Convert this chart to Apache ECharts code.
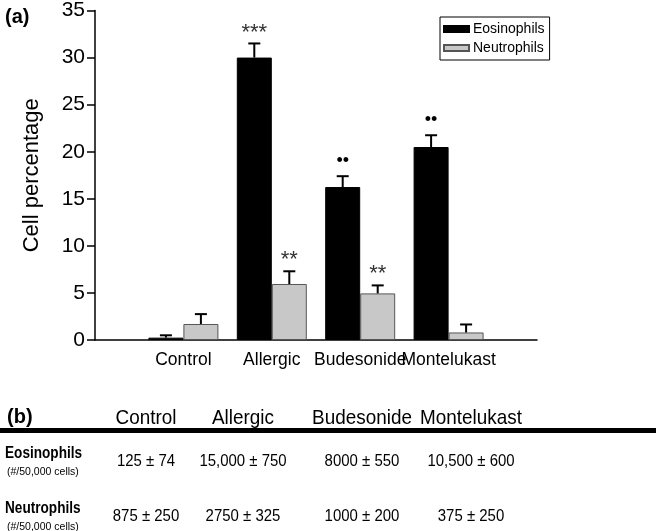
<!DOCTYPE html>
<html>
<head>
<meta charset="utf-8">
<script src="https://cdn.jsdelivr.net/npm/echarts@6/dist/echarts.min.js"></script>
<style>
html,body{margin:0;padding:0;background:#fff;}
#chart{width:659px;height:531px;}
</style>
</head>
<body>
<div id="chart"></div>
<script>
// ---- data ----
const categories = ['Control', 'Allergic', 'Budesonide', 'Montelukast'];
const eosinophils = [0.25, 30.0, 16.25, 20.5];
const eosErr = [0.25, 1.5, 1.15, 1.25];
const neutrophils = [1.7, 5.95, 4.95, 0.8];
const neutErr = [1.05, 1.35, 0.85, 0.85];
const eosSig = ['', '***', '••', '••'];
const neutSig = ['', '**', '**', ''];
const yMin = 0, yMax = 35, yStep = 5;

const tableHeaders = ['Control', 'Allergic', 'Budesonide', 'Montelukast'];
const rowLabels = ['Eosinophils', 'Neutrophils'];
const rowUnit = '(#/50,000 cells)';
const eosCounts = ['125 ± 74', '15,000 ± 750', '8000 ± 550', '10,500 ± 600'];
const neutCounts = ['875 ± 250', '2750 ± 325', '1000 ± 200', '375 ± 250'];

// ---- chart ----
const FONT = '"Liberation Sans", Arial, Helvetica, sans-serif';
const chart = echarts.init(document.getElementById('chart'));

const axisCats = [''].concat(categories, ['']);
const pad = arr => [null].concat(arr, [null]);

const isStar = s => s.indexOf('*') >= 0;
const sigFont = s => (isStar(s) ? '22px ' + FONT : '18px ' + FONT);
const sigColor = s => (isStar(s) ? '#333' : '#000');
const sigGap = s => (isStar(s) ? 0 : 6);

function errSeries(values, errs, sigs, offset) {
  return {
    type: 'custom',
    z: 5,
    silent: true,
    data: values.map((v, i) => [i + 1, v, errs[i]]),
    renderItem: function (params, api) {
      const idx = api.value(0), v = api.value(1), e = api.value(2);
      const top = api.coord([idx, v]);
      const cap = api.coord([idx, v + e]);
      const x = top[0] + offset;
      const children = [
        { type: 'line', shape: { x1: x, y1: top[1], x2: x, y2: cap[1] }, style: { stroke: '#000', lineWidth: 2 } },
        { type: 'line', shape: { x1: x - 6, y1: cap[1], x2: x + 6, y2: cap[1] }, style: { stroke: '#000', lineWidth: 2 } }
      ];
      const s = sigs[params.dataIndex];
      if (s) {
        children.push({
          type: 'text',
          style: { x: x, y: cap[1] - sigGap(s), text: s, textAlign: 'center', textVerticalAlign: 'bottom',
                   font: sigFont(s), fill: sigColor(s) }
        });
      }
      return { type: 'group', children: children };
    }
  };
}

// table graphics
const colX = [146, 243, 362, 471];
const graphics = [];
graphics.push({ type: 'text', x: 7, y: 417, style: { text: '(b)', font: 'bold 20px ' + FONT, fill: '#000', textVerticalAlign: 'middle' } });
graphics.push({ type: 'text', x: 5, y: 17, style: { text: '(a)', font: 'bold 20px ' + FONT, fill: '#000', textVerticalAlign: 'middle' } });
tableHeaders.forEach((h, i) => {
  graphics.push({ type: 'text', x: colX[i], y: 418, scaleX: 0.9,
    style: { text: h, font: '21px ' + FONT, fill: '#000', textAlign: 'center', textVerticalAlign: 'middle' } });
});
graphics.push({ type: 'rect', shape: { x: 0, y: 428, width: 656, height: 5 }, style: { fill: '#000' } });
[eosCounts, neutCounts].forEach((row, r) => {
  const yc = r === 0 ? 461 : 516;
  graphics.push({ type: 'text', x: 5, y: yc - 7, scaleX: 0.85,
    style: { text: rowLabels[r], font: 'bold 16px ' + FONT, fill: '#000', textVerticalAlign: 'middle' } });
  graphics.push({ type: 'text', x: 7, y: yc + 11,
    style: { text: rowUnit, font: '10.5px ' + FONT, fill: '#000', textVerticalAlign: 'middle' } });
  row.forEach((t, i) => {
    graphics.push({ type: 'text', x: colX[i], y: yc, scaleX: 0.88,
      style: { text: t, font: '17px ' + FONT, fill: '#000', textAlign: 'center', textVerticalAlign: 'middle' } });
  });
});

const option = {
  animation: false,
  backgroundColor: '#fff',
  textStyle: { fontFamily: FONT },
  grid: { left: 95, right: 122, top: 10, bottom: 191, containLabel: false },
  legend: {
    data: ['Eosinophils', 'Neutrophils'],
    orient: 'vertical',
    left: 440, top: 17,
    borderColor: '#000', borderWidth: 1, borderRadius: 0,
    padding: [5, 5, 5, 3],
    itemWidth: 25, itemHeight: 6, itemGap: 5,
    icon: 'rect',
    textStyle: { fontSize: 14, color: '#000', fontFamily: FONT, padding: [0, 0, 0, -1] }
  },
  xAxis: {
    type: 'category',
    data: axisCats,
    boundaryGap: false,
    axisLine: { lineStyle: { color: '#000', width: 1.5 } },
    axisTick: { show: false },
    splitLine: { show: false },
    axisLabel: { interval: 0, color: '#000', fontSize: 17.5, margin: 11, fontFamily: FONT }
  },
  yAxis: {
    type: 'value',
    min: yMin, max: yMax, interval: yStep,
    name: 'Cell percentage',
    nameLocation: 'middle',
    nameGap: 52,
    nameTextStyle: { fontSize: 22, color: '#000', fontFamily: FONT },
    axisLine: { show: true, lineStyle: { color: '#000', width: 1.5 } },
    axisTick: { show: true, length: 8, lineStyle: { color: '#000', width: 1.5 } },
    splitLine: { show: false },
    axisLabel: { color: '#000', fontSize: 21, margin: 10, fontFamily: FONT }
  },
  series: [
    { name: 'Eosinophils', type: 'bar', data: pad(eosinophils), barWidth: 35, barGap: '0%',
      itemStyle: { color: '#000', borderColor: '#000', borderWidth: 1 } },
    { name: 'Neutrophils', type: 'bar', data: pad(neutrophils), barWidth: 35, barGap: '0%',
      itemStyle: { color: '#c8c8c8', borderColor: '#555', borderWidth: 1 } },
    errSeries(eosinophils, eosErr, eosSig, -17.5),
    errSeries(neutrophils, neutErr, neutSig, 17.5)
  ],
  graphic: graphics
};
chart.setOption(option);
</script>
</body>
</html>
